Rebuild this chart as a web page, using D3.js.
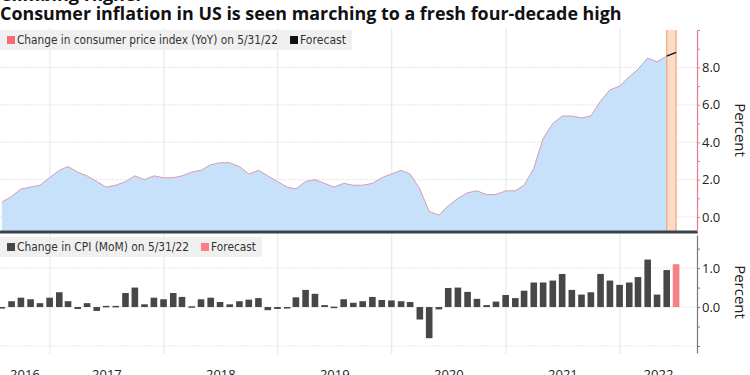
<!DOCTYPE html>
<html>
<head>
<meta charset="utf-8">
<script src="https://cdn.jsdelivr.net/npm/d3@7"></script>
<style>
  body { margin: 0; background: #fff; }
  svg { display: block; }
</style>
</head>
<body>
<div id="chart"></div>
<script>
// first month of both series, values are month-end readings
const startMonth = "2016-07";

// CPI YoY, Jul 2016 .. May 2022
const yoyValues = [
  0.8, 1.1, 1.5, 1.6, 1.7, 2.1,
  2.5, 2.7, 2.4, 2.2, 1.9, 1.6, 1.7, 1.9, 2.2, 2.0, 2.2, 2.1,
  2.1, 2.2, 2.4, 2.5, 2.8, 2.9, 2.9, 2.7, 2.3, 2.5, 2.2, 1.9,
  1.6, 1.5, 1.9, 2.0, 1.8, 1.6, 1.8, 1.7, 1.7, 1.8, 2.1, 2.3,
  2.5, 2.3, 1.5, 0.3, 0.1, 0.6, 1.0, 1.3, 1.4, 1.2, 1.2, 1.4,
  1.4, 1.7, 2.6, 4.2, 5.0, 5.4, 5.4, 5.3, 5.4, 6.2, 6.8, 7.0,
  7.5, 7.9, 8.5, 8.3, 8.6
];
const yoyForecast = 8.8;

// CPI MoM, Jul 2016 .. May 2022
const momValues = [
  -0.04, 0.15, 0.24, 0.2, 0.1, 0.24,
  0.38, 0.15, -0.05, 0.1, -0.1, 0.03, 0.03, 0.36, 0.5, 0.07, 0.24, 0.2,
  0.36, 0.26, 0.02, 0.2, 0.24, 0.13, 0.07, 0.15, 0.19, 0.23, -0.08, -0.05,
  -0.03, 0.25, 0.44, 0.34, 0.05, 0.01, 0.2, 0.11, 0.15, 0.26, 0.18, 0.17,
  0.15, 0.13, -0.32, -0.8, -0.06, 0.49, 0.5, 0.39, 0.21, 0.05, 0.14, 0.31,
  0.23, 0.42, 0.63, 0.63, 0.68, 0.85, 0.44, 0.32, 0.38, 0.85, 0.68, 0.57,
  0.63, 0.77, 1.22, 0.32, 0.95
];
const momForecast = 1.1;

const years = [2016, 2017, 2018, 2019, 2020, 2021, 2022];
const yoyTicks = [0, 1, 2, 3, 4, 5, 6, 7, 8, 9, 10];
const yoyGrid = [0, 2, 4, 6, 8];
const momTicks = [-1, -0.5, 0, 0.5, 1, 1.5];
const momGrid = [-1, 0, 1];

const W = 750, H = 375;
const plotRight = 697;

const svg = d3.select("#chart").append("svg")
    .attr("width", W)
    .attr("height", H);

// month-end dates
const parse = d3.timeParse("%Y-%m");
const first = parse(startMonth);
const monthEnd = i => new Date(first.getFullYear(), first.getMonth() + i + 1, 0);
const dates = yoyValues.map((d, i) => monthEnd(i));
const fcDate = monthEnd(yoyValues.length);
const lastDate = dates[dates.length - 1];

const x = d3.scaleTime()
    .domain([new Date(2016, 6, 25), new Date(2022, 8, 5)])
    .range([0, plotRight]);

const yTop = d3.scaleLinear().domain([-0.8, 10]).range([232, 30]);
const yBot = d3.scaleLinear().domain([-1.18, 1.85]).range([353, 235]);

// year gridlines
svg.append("g")
    .selectAll("line")
    .data(years.slice(1))
    .enter().append("line")
    .attr("x1", d => x(new Date(d, 0, 1)))
    .attr("x2", d => x(new Date(d, 0, 1)))
    .attr("y1", 28)
    .attr("y2", 354)
    .attr("stroke", "#e4e4e4")
    .attr("stroke-width", 1);

// horizontal grid
svg.append("g")
    .selectAll("line")
    .data(yoyGrid)
    .enter().append("line")
    .attr("x1", 0).attr("x2", plotRight)
    .attr("y1", d => yTop(d)).attr("y2", d => yTop(d))
    .attr("stroke", "#e6e6e6")
    .attr("stroke-dasharray", "2,1");

svg.append("g")
    .selectAll("line")
    .data(momGrid)
    .enter().append("line")
    .attr("x1", 0).attr("x2", plotRight)
    .attr("y1", d => yBot(d)).attr("y2", d => yBot(d))
    .attr("stroke", "#e6e6e6")
    .attr("stroke-dasharray", "2,1");

// YoY area + line
const yoy = yoyValues.map((v, i) => ({ date: dates[i], value: v }));

svg.append("path")
    .datum(yoy)
    .attr("fill", "#c8e1fa")
    .attr("d", d3.area()
        .x(d => x(d.date))
        .y0(yTop.range()[0])
        .y1(d => yTop(d.value)));

svg.append("path")
    .datum(yoy)
    .attr("fill", "none")
    .attr("stroke", "#d99aae")
    .attr("stroke-width", 1)
    .attr("d", d3.line()
        .x(d => x(d.date))
        .y(d => yTop(d.value)));

// forecast band
svg.append("rect")
    .attr("x", x(lastDate))
    .attr("y", 30)
    .attr("width", x(fcDate) - x(lastDate))
    .attr("height", 202)
    .attr("fill", "#fcdcc6");

svg.selectAll(".band-edge")
    .data([lastDate, fcDate])
    .enter().append("line")
    .attr("class", "band-edge")
    .attr("x1", d => x(d)).attr("x2", d => x(d))
    .attr("y1", 30).attr("y2", 232)
    .attr("stroke", "#eea57a")
    .attr("stroke-width", 1.2);

svg.append("line")
    .attr("x1", x(lastDate))
    .attr("y1", yTop(yoyValues[yoyValues.length - 1]))
    .attr("x2", x(fcDate))
    .attr("y2", yTop(yoyForecast))
    .attr("stroke", "#111")
    .attr("stroke-width", 1.4);

// MoM bars
const mom = momValues.map((v, i) => ({ date: dates[i], value: v, fc: false }));
mom.push({ date: fcDate, value: momForecast, fc: true });
const barW = 6.6;

svg.append("g")
    .selectAll("rect")
    .data(mom)
    .enter().append("rect")
    .attr("x", d => x(d.date) - barW / 2)
    .attr("y", d => yBot(Math.max(0, d.value)))
    .attr("width", barW)
    .attr("height", d => Math.max(1.5, Math.abs(yBot(d.value) - yBot(0))))
    .attr("fill", d => d.fc ? "#f87f84" : "#474747");

// separator between panels
svg.append("line")
    .attr("x1", 0).attr("x2", plotRight + 1)
    .attr("y1", 232).attr("y2", 232)
    .attr("stroke", "#39424d")
    .attr("stroke-width", 3);

// right axes
const topAxis = svg.append("g")
    .attr("transform", `translate(${plotRight},0)`)
    .call(d3.axisRight(yTop)
        .tickValues(yoyTicks)
        .tickSize(3)
        .tickSizeOuter(0)
        .tickFormat(d => (d % 2 === 0 && d < 10) ? d.toFixed(1) : ""));
topAxis.select(".domain").attr("stroke", "#e8798c").attr("stroke-width", 1.2);
topAxis.selectAll(".tick line").attr("stroke", "#e8798c");
topAxis.selectAll("text")
    .attr("x", 5)
    .style("font-family", "'Open Sans', sans-serif")
    .style("font-size", "13px")
    .style("fill", "#222");

const botAxis = svg.append("g")
    .attr("transform", `translate(${plotRight},0)`)
    .call(d3.axisRight(yBot)
        .tickValues(momTicks)
        .tickSize(3)
        .tickSizeOuter(0)
        .tickFormat(d => (d === 0 || d === 1) ? d.toFixed(1) : ""));
botAxis.select(".domain").attr("stroke", "#777").attr("stroke-width", 1.2);
botAxis.selectAll(".tick line").attr("stroke", "#777");
botAxis.selectAll("text")
    .attr("x", 5)
    .style("font-family", "'Open Sans', sans-serif")
    .style("font-size", "13px")
    .style("fill", "#222");

// axis titles
[[130], [292]].forEach(([cy]) => {
  svg.append("text")
      .attr("transform", `translate(735,${cy}) rotate(90)`)
      .attr("text-anchor", "middle")
      .style("font-family", "'Open Sans', sans-serif")
      .style("font-size", "15px")
      .style("fill", "#222")
      .text("Percent");
});

// year labels centred in visible part of each year
svg.append("g")
    .selectAll("text")
    .data(years)
    .enter().append("text")
    .attr("x", d => {
      const a = Math.max(0, x(new Date(d, 0, 1)));
      const b = Math.min(plotRight, x(new Date(d + 1, 0, 1)));
      return (a + b) / 2;
    })
    .attr("y", 379)
    .attr("text-anchor", "middle")
    .style("font-family", "'Open Sans', sans-serif")
    .style("font-size", "13px")
    .style("fill", "#222")
    .text(d => d);

// legends
function legend(y0, w, items) {
  const g = svg.append("g");
  g.append("rect")
      .attr("x", 0).attr("y", y0)
      .attr("width", w).attr("height", 20)
      .attr("fill", "#f0f0f0");
  let cx = 7;
  items.forEach(it => {
    g.append("rect")
        .attr("x", cx).attr("y", y0 + 6)
        .attr("width", 8).attr("height", 8)
        .attr("fill", it.color);
    g.append("text")
        .attr("x", cx + 10).attr("y", y0 + 14)
        .attr("textLength", it.len)
        .attr("lengthAdjust", "spacingAndGlyphs")
        .style("font-family", "'DejaVu Sans', sans-serif")
        .style("font-size", "11.5px")
        .style("fill", "#333")
        .text(it.label);
    cx += 10 + it.len + 12;
  });
}

legend(30, 352, [
  { label: "Change in consumer price index (YoY) on 5/31/22", color: "#f26d75", len: 261 },
  { label: "Forecast", color: "#111", len: 46 }
]);
legend(237, 262, [
  { label: "Change in CPI (MoM) on 5/31/22", color: "#474747", len: 172 },
  { label: "Forecast", color: "#f87f84", len: 45 }
]);

// titles
svg.append("text")
    .attr("x", 0).attr("y", 1)
    .style("font-family", "'Open Sans', sans-serif")
    .style("font-weight", "bold")
    .style("font-size", "18px")
    .style("fill", "#111")
    .text("Climbing Higher");

const title = svg.append("text")
    .attr("x", 0).attr("y", 20)
    .style("font-family", "'Open Sans', sans-serif")
    .style("font-weight", "bold")
    .style("font-size", "16px")
    .style("fill", "#111")
    .text("Consumer inflation in US is seen marching to a fresh four-decade high");
const tw = title.node().getComputedTextLength();
title.style("font-size", (16 * 622 / tw).toFixed(2) + "px");
</script>
</body>
</html>
